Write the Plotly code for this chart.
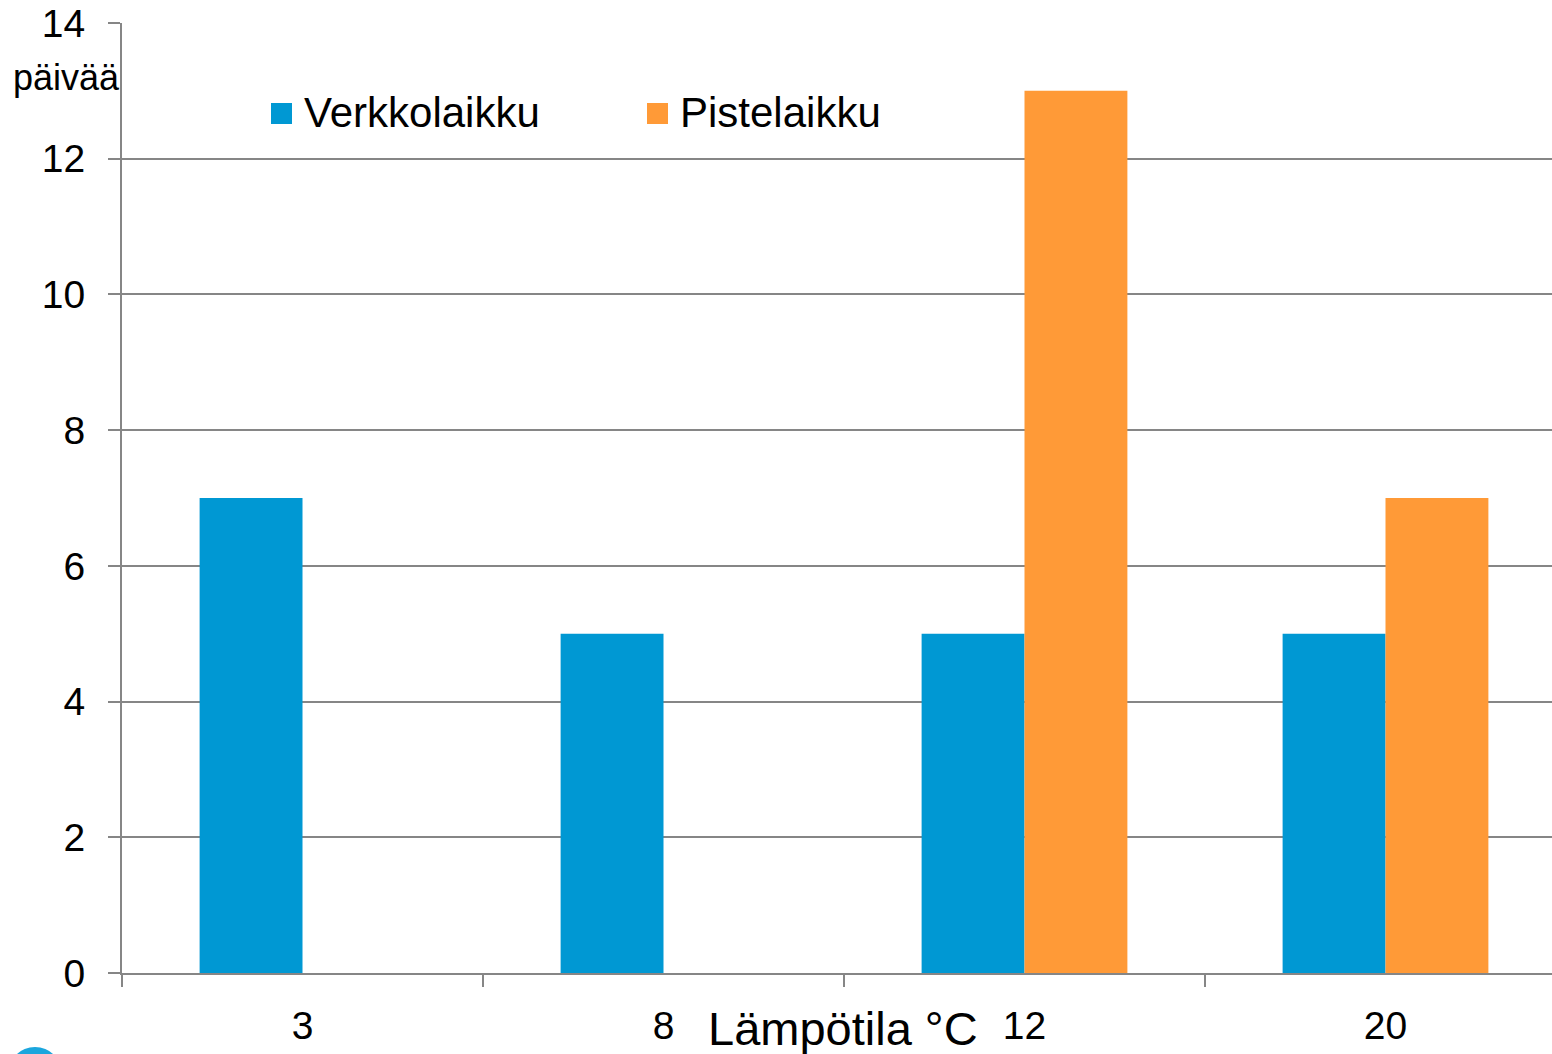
import plotly.graph_objects as go

categories = ["3", "8", "12", "20"]
series_names = ["Verkkolaikku", "Pistelaikku"]
verkkolaikku = [7, 5, 5, 5]
pistelaikku = [0, 0, 13, 7]
y_ticks = [0, 2, 4, 6, 8, 10, 12, 14]
x_title = "Lämpötila °C"
y_title = "päivää"

colors = ["#0098D3", "#FF9A37"]
FONT = "Liberation Sans, Arial, sans-serif"

W, H = 1552, 1054
L, R, T, B = 122, 0, 23, 81
pw, ph = W - L - R, H - T - B

def px_x(x):
    return (x - L) / pw

def px_y(y):
    return (H - B - y) / ph

fig = go.Figure()
fig.add_trace(go.Bar(x=categories, y=verkkolaikku, name=series_names[0],
                     marker=dict(color=colors[0], line=dict(width=0)), showlegend=False))
fig.add_trace(go.Bar(x=categories, y=pistelaikku, name=series_names[1],
                     marker=dict(color=colors[1], line=dict(width=0)), showlegend=False))

fig.update_layout(
    width=W, height=H,
    margin=dict(l=L, r=R, t=T, b=B),
    paper_bgcolor="white", plot_bgcolor="white",
    barmode="group", bargap=0.43, bargroupgap=0,
    font=dict(family=FONT, color="black"),
)

fig.update_xaxes(
    type="category", range=[-0.5, -0.5 + pw / 361.0],
    showline=True, linecolor="#868686", linewidth=2,
    ticks="outside", ticklen=12, tickwidth=2, tickcolor="#868686",
    tickson="boundaries", showgrid=False,
    tickfont=dict(size=39, family=FONT, color="black"),
    ticklabelstandoff=17,
)
fig.update_yaxes(
    range=[0, 14], tickvals=y_ticks,
    showline=True, linecolor="#868686", linewidth=2,
    ticks="outside", ticklen=12, tickwidth=2, tickcolor="#868686",
    showgrid=True, gridcolor="#868686", gridwidth=2,
    zeroline=False,
    tickfont=dict(size=39, family=FONT, color="black"),
    ticklabelstandoff=15,
)

annotations = [
    dict(text=y_title, x=px_x(66), y=px_y(78), xref="paper", yref="paper",
         showarrow=False, font=dict(size=36, family=FONT, color="black"),
         xanchor="center", yanchor="middle"),
    dict(text=x_title, x=px_x(843), y=px_y(1028), xref="paper", yref="paper",
         showarrow=False, font=dict(size=47, family=FONT, color="black"),
         xanchor="center", yanchor="middle"),
]
shapes = []
legend_x = [271, 647]
for i, name in enumerate(series_names):
    x0 = legend_x[i]
    shapes.append(dict(type="rect", xref="paper", yref="paper",
                       x0=px_x(x0), x1=px_x(x0 + 21), y0=px_y(124), y1=px_y(103),
                       fillcolor=colors[i], line=dict(width=0)))
    annotations.append(dict(text=name, x=px_x(x0 + 31), y=px_y(113), xref="paper", yref="paper",
                            showarrow=False, font=dict(size=42, family=FONT, color="black"),
                            xanchor="left", yanchor="middle"))

# partial logo circle at bottom-left corner
shapes.append(dict(type="circle", xref="paper", yref="paper",
                   x0=px_x(8), x1=px_x(62), y0=px_y(1102), y1=px_y(1047),
                   fillcolor="#1BA6DD", line=dict(width=0), layer="above"))

fig.update_layout(annotations=annotations, shapes=shapes)

fig.write_html("out.html", config={"displayModeBar": False},
               post_script="document.body.style.margin='0';")
